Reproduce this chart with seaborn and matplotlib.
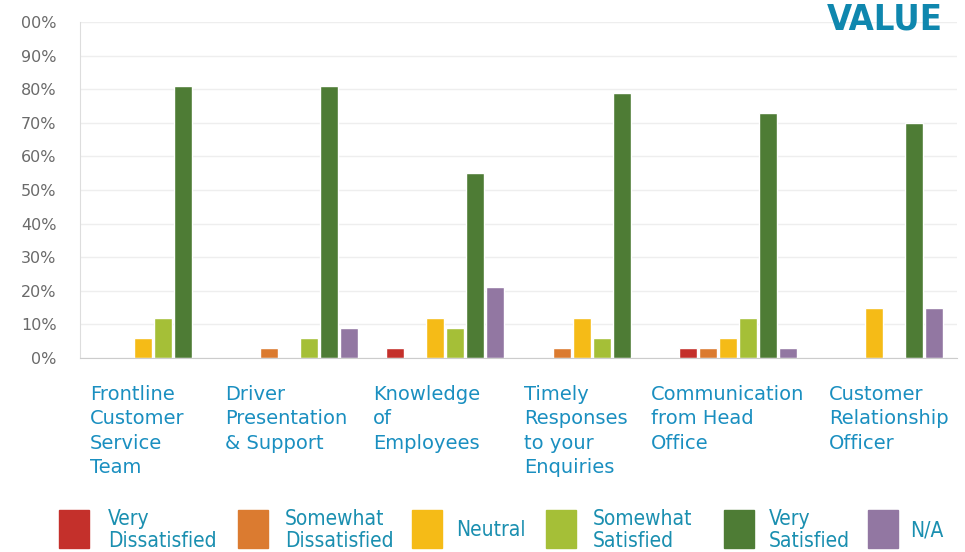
import matplotlib
matplotlib.use("Agg")
import matplotlib.pyplot as plt
import matplotlib.patches as mpatches
import seaborn as sns
import pandas as pd

categories = ["Frontline\nCustomer\nService\nTeam",
              "Driver\nPresentation\n& Support",
              "Knowledge\nof\nEmployees",
              "Timely\nResponses\nto your\nEnquiries",
              "Communication\nfrom Head\nOffice",
              "Customer\nRelationship\nOfficer"]
series = ["Very Dissatisfied", "Somewhat Dissatisfied", "Neutral",
          "Somewhat Satisfied", "Very Satisfied", "N/A"]
legend_labels = ["Very\nDissatisfied", "Somewhat\nDissatisfied", "Neutral",
                 "Somewhat\nSatisfied", "Very\nSatisfied", "N/A"]
very_dissatisfied = [0, 0, 3, 0, 3, 0]
somewhat_dissatisfied = [0, 3, 0, 3, 3, 0]
neutral = [6, 0, 12, 12, 6, 15]
somewhat_satisfied = [12, 6, 9, 6, 12, 0]
very_satisfied = [81, 81, 55, 79, 73, 70]
na = [0, 9, 21, 0, 3, 15]
yticks = [0, 10, 20, 30, 40, 50, 60, 70, 80, 90, 100]
ytick_labels = ["0%", "10%", "20%", "30%", "40%", "50%", "60%", "70%", "80%", "90%", "00%"]
colors = ["#c4302b", "#db7b30", "#f5bb17", "#a5bf37", "#4e7c35", "#9277a2"]

values = [very_dissatisfied, somewhat_dissatisfied, neutral,
          somewhat_satisfied, very_satisfied, na]
rows = []
for s, vals in zip(series, values):
    for c, v in zip(categories, vals):
        rows.append({"category": c, "series": s, "value": v})
df = pd.DataFrame(rows)

sns.set_style("white")
plt.rcParams["font.family"] = ["DejaVu Sans"]

fig = plt.figure(figsize=(9.65, 5.52), dpi=100)
ax = fig.add_axes([80 / 965, 1 - 358 / 552, 877 / 965, 336 / 552])

sns.barplot(data=df, x="category", y="value", hue="series", hue_order=series,
            order=categories, palette=colors, width=0.82, gap=0.1,
            legend=False, ax=ax, saturation=1)

ax.set_ylim(0, 100)
ax.set_xlim(-0.5, len(categories) - 0.5)
ax.set_yticks(yticks)
ax.set_yticklabels(ytick_labels, color="#6a6a6a", fontsize=11.5)
ax.yaxis.grid(True, color="#eeeeee", linewidth=1)
ax.set_axisbelow(True)
ax.set_xlabel("")
ax.set_ylabel("")
ax.set_xticks(range(len(categories)))
ax.set_xticklabels([])
ax.tick_params(axis="y", length=0, pad=17)
ax.tick_params(axis="x", length=0)
for side in ["top", "right"]:
    ax.spines[side].set_visible(False)
ax.spines["left"].set_color("#dddddd")
ax.spines["bottom"].set_color("#cccccc")

label_color = "#1a8fc0"
label_px = [90, 225, 373, 524, 651, 829]
for lab, px in zip(categories, label_px):
    fig.text(px / 965, 1 - 385 / 552, lab, ha="left", va="top",
             fontsize=14, color=label_color, linespacing=1.36,
             family=["DejaVu Sans"])

fig.text(943 / 965, 1 - 20 / 552, "VALUE", ha="right", va="center",
         fontsize=26, fontweight="bold", fontstretch="condensed", color="#0f87ae",
         family=["DejaVu Sans"])

sq_px = [59, 238, 412, 546, 724, 868]
txt_px = [108, 285, 456, 593, 769, 910]
for c, lab, sx, tx in zip(colors, legend_labels, sq_px, txt_px):
    fig.patches.append(mpatches.Rectangle((sx / 965, 1 - 548 / 552), 30 / 965, 38 / 552,
                                          transform=fig.transFigure, color=c))
    fig.text(tx / 965, 1 - 530 / 552, lab, ha="left", va="center",
             fontsize=15, fontstretch="condensed", color="#1a8fb0", linespacing=1.15,
             family=["DejaVu Sans"])

fig.savefig("out.png", dpi=100, facecolor="white")
